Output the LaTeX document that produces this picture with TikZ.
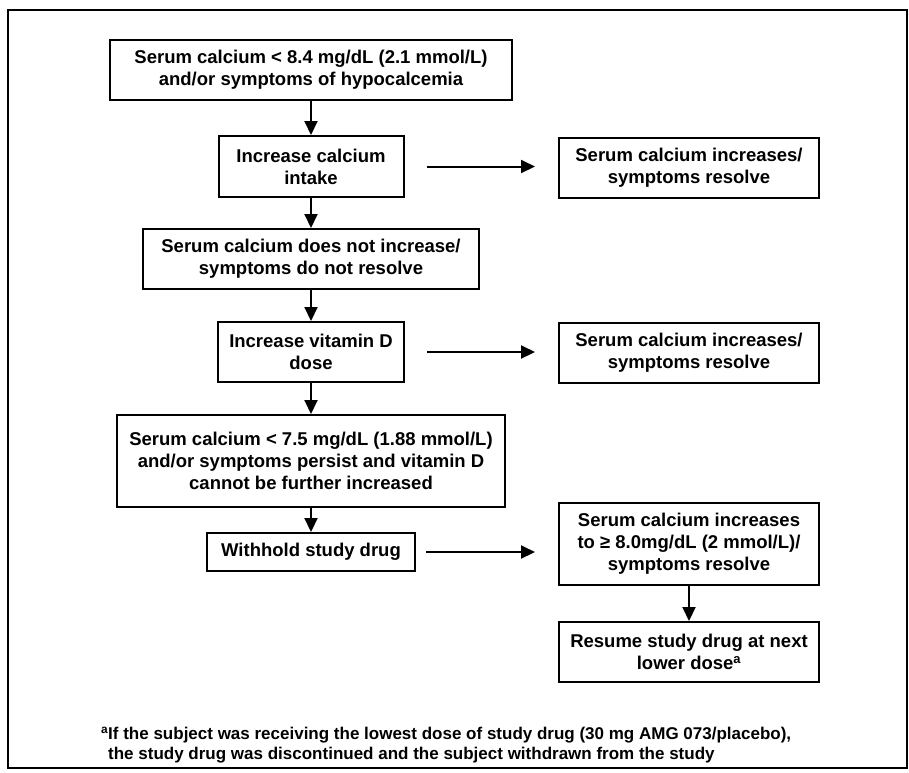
\documentclass[tikz,border=0pt]{standalone}
\usepackage{fontspec}
\setmainfont{Liberation Sans}
\usetikzlibrary{arrows.meta}

\begin{document}
\begin{tikzpicture}[x=1pt,y=-1pt,
  box/.style={draw,line width=2pt,align=center,inner sep=0pt,
    font=\bfseries\fontsize{18.5}{21.8}\selectfont},
  flow/.style={line width=2pt,-{Triangle[length=14pt,width=13pt]}}]
\useasboundingbox (0,0) rectangle (909,772);
\draw[line width=2.6pt] (8,10) rectangle (907,768);
% left column
\node[box,minimum width=402pt,minimum height=60pt] (hypo) at (311,70)
  {Serum calcium < 8.4 mg/dL (2.1 mmol/L)\\and/or symptoms of hypocalcemia};
\node[box,minimum width=185pt,minimum height=61pt] (intake) at (311,166.5)
  {Increase calcium\\intake};
\node[box,minimum width=336pt,minimum height=60pt] (noinc) at (311,259)
  {Serum calcium does not increase/\\symptoms do not resolve};
\node[box,minimum width=186pt,minimum height=60pt] (vitd) at (311,352)
  {Increase vitamin D\\dose};
\node[box,minimum width=388pt,minimum height=92pt] (persist) at (311,461)
  {Serum calcium < 7.5 mg/dL (1.88 mmol/L)\\and/or symptoms persist and vitamin D\\cannot be further increased};
\node[box,minimum width=208pt,minimum height=38pt] (withhold) at (311,552)
  {Withhold study drug};
% right column
\node[box,minimum width=260pt,minimum height=60pt] (res1) at (689,168)
  {Serum calcium increases/\\symptoms resolve};
\node[box,minimum width=260pt,minimum height=60pt] (res2) at (689,353)
  {Serum calcium increases/\\symptoms resolve};
\node[box,minimum width=260pt,minimum height=82pt] (res3) at (689,544)
  {Serum calcium increases\\to ≥ 8.0mg/dL (2 mmol/L)/\\symptoms resolve};
\node[box,minimum width=260pt,minimum height=60pt] (resume) at (689,652)
  {Resume study drug at next\\lower dose\textsuperscript{a}};
% footnote
\node[anchor=north west,align=left,inner sep=0pt,
  font=\bfseries\fontsize{17}{20}\selectfont] (note) at (108,727)
  {\llap{\textsuperscript{a}}If the subject was receiving the lowest dose of study drug (30 mg AMG 073/placebo),\\
   the study drug was discontinued and the subject withdrawn from the study};

\foreach \a/\b in {hypo/intake,intake/noinc,noinc/vitd,vitd/persist,persist/withhold,res3/resume}
  \draw[flow] (\a.south) -- (\a.south |- \b.north);
\foreach \a/\b/\s in {intake/res1/22pt,vitd/res2/22pt,withhold/res3/10pt}
  \draw[flow,shorten <=\s,shorten >=23pt] (\a.east) -- (\a.east -| \b.west);
\end{tikzpicture}
\end{document}
